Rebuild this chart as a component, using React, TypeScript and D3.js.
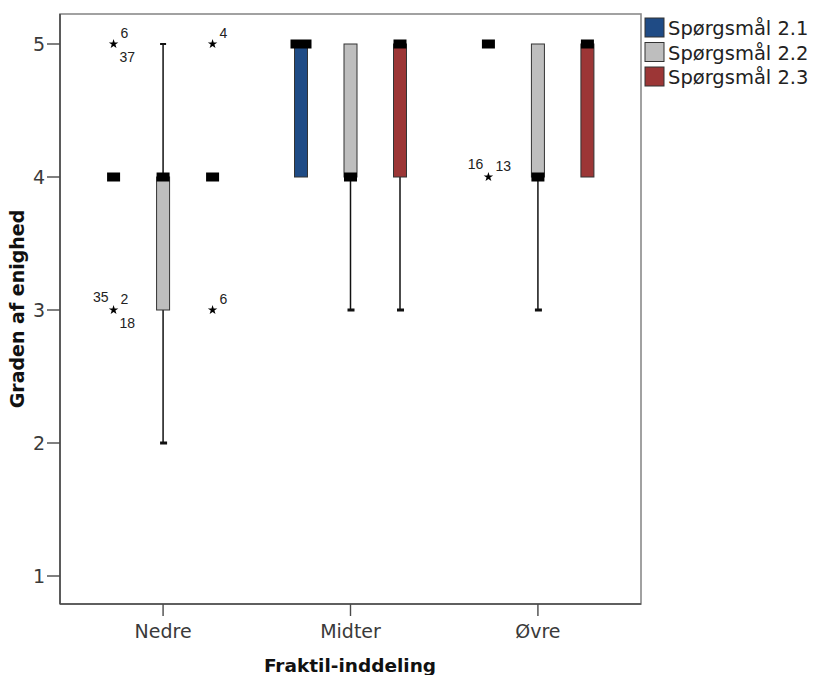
import React from "react";
import * as d3 from "d3";

const groups = ["Nedre", "Midter", "Øvre"];
const series = ["Spørgsmål 2.1", "Spørgsmål 2.2", "Spørgsmål 2.3"];
const colors = ["#1f4b85", "#bebebe", "#9c3636"];
const yTicks = [1, 2, 3, 4, 5];

// [min, q1, median, q3, max] per group
const q21 = [[4, 4, 4, 4, 4], [4, 4, 5, 5, 5], [5, 5, 5, 5, 5]];
const q22 = [[2, 3, 4, 4, 5], [3, 4, 4, 5, 5], [3, 4, 4, 5, 5]];
const q23 = [[4, 4, 4, 4, 4], [3, 4, 5, 5, 5], [4, 4, 5, 5, 5]];

const outliers21 = [
  { group: "Nedre", value: 5, labels: [{ t: "6", p: "ur" }, { t: "37", p: "lr" }] },
  { group: "Nedre", value: 3, labels: [{ t: "35", p: "ul" }, { t: "2", p: "ur" }, { t: "18", p: "lr" }] },
  { group: "Øvre", value: 4, labels: [{ t: "16", p: "ul" }, { t: "13", p: "ur" }] },
];
const outliers22: typeof outliers21 = [];
const outliers23 = [
  { group: "Nedre", value: 5, labels: [{ t: "4", p: "ur" }] },
  { group: "Nedre", value: 3, labels: [{ t: "6", p: "ur" }] },
];

const stats = [q21, q22, q23];
const outliers = [outliers21, outliers22, outliers23];

export default function App() {
  const W = 819, H = 675;
  const left = 60, right = 641, top = 14, bottom = 604;
  const y = d3.scaleLinear().domain([1, 5]).range([576, 44]);
  const x = d3.scaleBand().domain(groups).range([left, right]).paddingOuter(0.05).paddingInner(0);
  const sub = d3.scalePoint().domain(series).range([-49.5, 49.5]);
  const cx = (g: string, s: string) => (x(g) as number) + x.bandwidth() / 2 + (sub(s) as number);
  const boxW = 13;
  const medH = 9;
  const capW = 6;
  const star = d3.symbol().type(d3.symbolStar).size(28)();
  const sans = "DejaVu Sans, Verdana, sans-serif";
  const arial = "Liberation Sans, Arial, sans-serif";

  const labelPos = (p: string, sx: number, sy: number) => {
    if (p === "ur") return { x: sx + 7, y: sy - 6, a: "start" };
    if (p === "lr") return { x: sx + 6, y: sy + 18, a: "start" };
    return { x: sx - 5, y: sy - 8, a: "end" };
  };

  return (
    <svg width={W} height={H} style={{ position: "absolute", left: 0, top: 0, background: "#fff" }}>
      <rect x={0} y={0} width={W} height={H} fill="#fff" />
      {/* frame */}
      <rect x={left} y={top} width={right - left} height={bottom - top} fill="#fff" stroke="#8a8a8a" strokeWidth={1.6} />
      <line x1={left} y1={top} x2={left} y2={bottom} stroke="#4a4a4a" strokeWidth={1.6} />
      <line x1={left} y1={bottom} x2={right} y2={bottom} stroke="#4a4a4a" strokeWidth={1.6} />

      {/* y ticks */}
      {yTicks.map((t) => (
        <g key={t}>
          <line x1={47} x2={left} y1={y(t)} y2={y(t)} stroke="#4a4a4a" strokeWidth={1.4} />
          <text x={45} y={y(t)} dy="0.36em" textAnchor="end" fontFamily={sans} fontSize={19} fill="#3a3a3a">
            {t}
          </text>
        </g>
      ))}
      {/* x ticks */}
      {groups.map((g) => {
        const c = (x(g) as number) + x.bandwidth() / 2;
        return (
          <g key={g}>
            <line x1={c} x2={c} y1={bottom} y2={616} stroke="#4a4a4a" strokeWidth={1.4} />
            <text x={c} y={638} textAnchor="middle" fontFamily={sans} fontSize={19} fill="#3a3a3a">
              {g}
            </text>
          </g>
        );
      })}

      {/* boxes */}
      {series.map((s, si) =>
        groups.map((g, gi) => {
          const [mn, q1, md, q3, mx] = stats[si][gi];
          const c = cx(g, s);
          const wide = g === "Midter" && si === 0;
          const mw = wide ? 21 : boxW;
          return (
            <g key={s + g}>
              {mx > q3 && (
                <>
                  <line x1={c} x2={c} y1={y(q3)} y2={y(mx)} stroke="#111" strokeWidth={1.5} />
                  <rect x={c - capW / 2} y={y(mx) - 1} width={capW} height={2} fill="#111" />
                </>
              )}
              {mn < q1 && (
                <>
                  <line x1={c} x2={c} y1={y(q1)} y2={y(mn)} stroke="#111" strokeWidth={1.5} />
                  <rect x={c - capW / 2} y={y(mn) - 1.5} width={capW + 1} height={3} fill="#111" />
                </>
              )}
              {q3 > q1 && (
                <rect x={c - boxW / 2} y={y(q3)} width={boxW} height={y(q1) - y(q3)} fill={colors[si]} stroke="#333" strokeWidth={1} />
              )}
              <rect x={c - mw / 2} y={y(md) - medH / 2} width={mw} height={medH} fill="#000" />
            </g>
          );
        })
      )}

      {/* outliers */}
      {series.map((s, si) =>
        outliers[si].map((o, oi) => {
          const sx = cx(o.group, s);
          const sy = y(o.value);
          return (
            <g key={s + oi}>
              <path d={star as string} transform={`translate(${sx},${sy})`} fill="#000" />
              {o.labels.map((l, li) => {
                const lp = labelPos(l.p, sx, sy);
                return (
                  <text key={li} x={lp.x} y={lp.y} textAnchor={lp.a as any} fontFamily={arial} fontSize={14} fill="#222">
                    {l.t}
                  </text>
                );
              })}
            </g>
          );
        })
      )}

      {/* axis titles */}
      <text x={350} y={672} textAnchor="middle" fontFamily={sans} fontWeight="bold" fontSize={18.5} fill="#111">
        Fraktil-inddeling
      </text>
      <text transform={`translate(24,${(top + bottom) / 2}) rotate(-90)`} textAnchor="middle" fontFamily={sans} fontWeight="bold" fontSize={19} fill="#111">
        Graden af enighed
      </text>

      {/* legend */}
      {series.map((s, i) => (
        <g key={s} transform={`translate(645,${18 + i * 24.5})`}>
          <rect x={0} y={0} width={19} height={19} fill={colors[i]} stroke="#333" strokeWidth={1} />
          <text x={23} y={17} fontFamily={sans} fontSize={19.5} fill="#222">
            {s}
          </text>
        </g>
      ))}
    </svg>
  );
}
